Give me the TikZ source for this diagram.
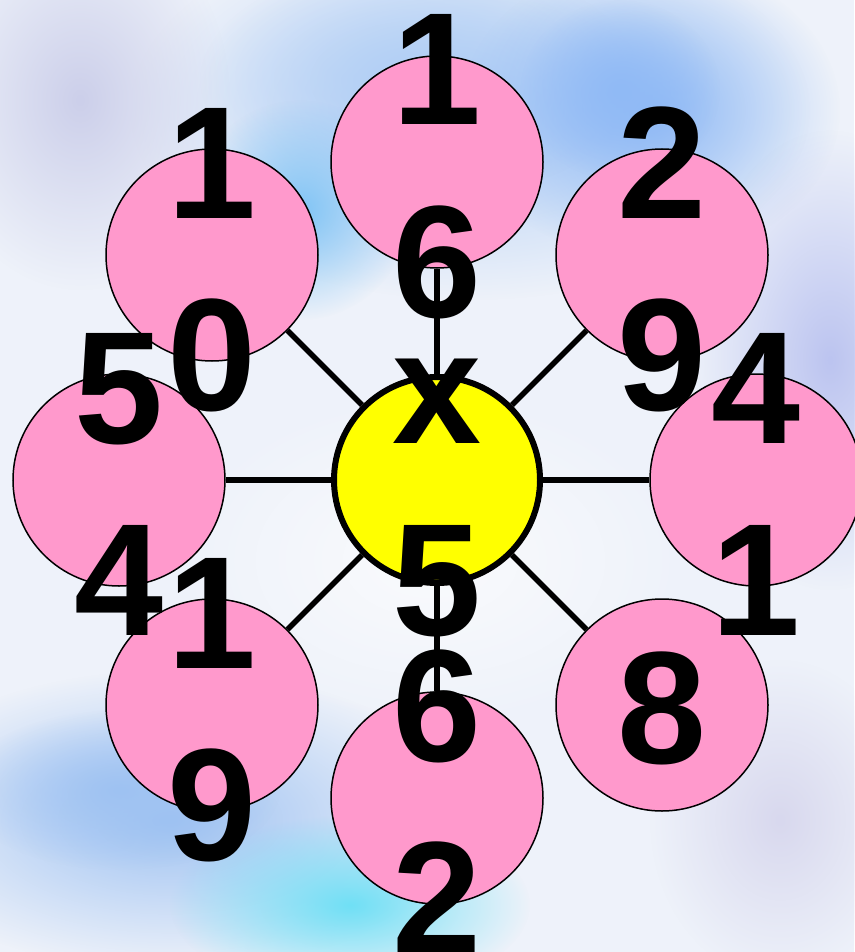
\documentclass[tikz,border=0pt]{standalone}
\usepackage{fontspec}
\setmainfont{Liberation Sans}
\usetikzlibrary{fadings}
\tikzfading[name=blob, inner color=transparent!0, outer color=transparent!100]
\definecolor{bgbase}{HTML}{EEF2FA}
\definecolor{pinkc}{HTML}{FF99CC}
\definecolor{yellowc}{HTML}{FFFF00}
\definecolor{bgA}{HTML}{B0CEF5}
\definecolor{bgB}{HTML}{80C4F5}
\definecolor{bgC}{HTML}{90BAF5}
\definecolor{bgD}{HTML}{CCCFEA}
\definecolor{bgE}{HTML}{BCC4F0}
\definecolor{bgF}{HTML}{9EC2F2}
\definecolor{bgG}{HTML}{70E0F5}
\definecolor{bgH}{HTML}{D8D8EE}
\definecolor{bgW}{HTML}{FAFBFD}
\begin{document}
\begin{tikzpicture}[x=1pt,y=-1pt,
  pinkcirc/.style={circle, draw=black, line width=1.5pt, fill=pinkc, minimum size=212pt, inner sep=0pt},
  centercirc/.style={circle, draw=black, line width=6pt, fill=yellowc, minimum size=206pt, inner sep=0pt},
  digit/.style={anchor=base, inner sep=0pt, font=\fontsize{160}{192}\selectfont\bfseries},
  spoke/.style={line width=5.5pt},
  bgblob/.style={path fading=blob}]
\useasboundingbox (0,0) rectangle (854,952);
% background
\fill[bgbase] (0,0) rectangle (854,952);
\fill[bgA, bgblob] (470,110) ellipse (340pt and 190pt);
\fill[bgA, bgblob] (420,80) ellipse (220pt and 120pt);
\fill[bgD, bgblob] (80,100) ellipse (150pt and 190pt);
\fill[bgB, bgblob] (300,210) ellipse (110pt and 110pt);
\fill[bgC, bgblob] (650,110) ellipse (190pt and 150pt);
\fill[bgC, bgblob] (620,90) ellipse (100pt and 90pt);
\fill[bgE, bgblob] (830,360) ellipse (140pt and 230pt);
\fill[bgW, bgblob] (430,560) ellipse (260pt and 170pt);
\fill[bgF, bgblob] (170,820) ellipse (300pt and 150pt);
\fill[bgF, bgblob] (120,790) ellipse (160pt and 80pt);
\fill[bgG, bgblob] (350,905) ellipse (180pt and 90pt);
\fill[bgH, bgblob] (780,820) ellipse (130pt and 160pt);
% circles
\node[centercirc] (c) at (437,480) {};
\node[pinkcirc] (t) at (437,162) {};
\node[pinkcirc] (tr) at (662,255) {};
\node[pinkcirc] (r) at (756,480) {};
\node[pinkcirc] (br) at (662,705) {};
\node[pinkcirc] (b) at (437,798) {};
\node[pinkcirc] (bl) at (212,705) {};
\node[pinkcirc] (l) at (119,480) {};
\node[pinkcirc] (tl) at (212,255) {};
% texts
\node[digit] (t1) at (437,125) {1};
\node[digit] (t2) at (437,317) {6};
\node[digit] (tr1) at (662,218) {2};
\node[digit] (tr2) at (662,410) {9};
\node[digit] (r1) at (756,443) {4};
\node[digit] (r2) at (756,635) {1};
\node[digit] (br1) at (662,763) {8};
\node[digit] (b1) at (437,761) {6};
\node[digit] (b2) at (437,953) {2};
\node[digit] (bl1) at (212,668) {1};
\node[digit] (bl2) at (212,860) {9};
\node[digit] (l1) at (119,443) {5};
\node[digit] (l2) at (119,635) {4};
\node[digit] (tl1) at (212,218) {1};
\node[digit] (tl2) at (212,410) {0};
\node[digit] (c1) at (437,443) {x};
\node[digit] (c2) at (437,635) {5};
% spokes
\draw[spoke] (c) -- (t);
\draw[spoke] (c) -- (tr);
\draw[spoke] (c) -- (r);
\draw[spoke] (c) -- (br);
\draw[spoke] (c) -- (b);
\draw[spoke] (c) -- (bl);
\draw[spoke] (c) -- (l);
\draw[spoke] (c) -- (tl);
\end{tikzpicture}
\end{document}
